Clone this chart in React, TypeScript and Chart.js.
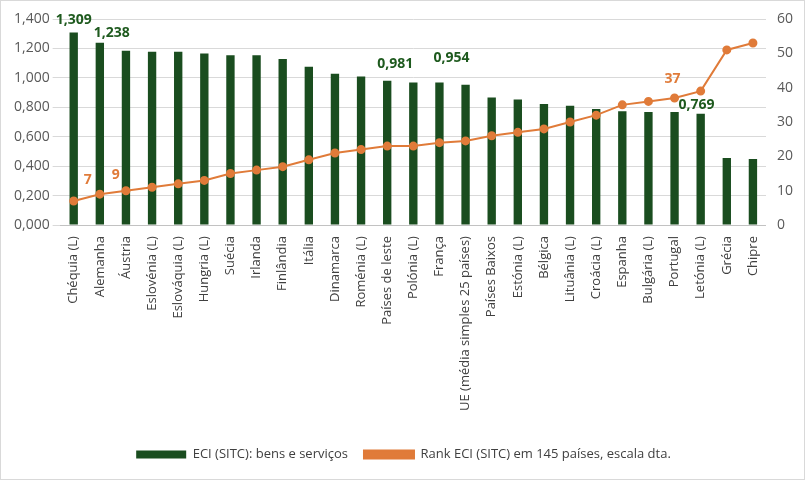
import React, { useEffect, useRef } from "react";
import { Chart, registerables } from "chart.js";
Chart.register(...registerables);

const categories = ["Chéquia (L)", "Alemanha", "Áustria", "Eslovénia (L)", "Eslováquia (L)", "Hungria (L)", "Suécia", "Irlanda", "Finlândia", "Itália", "Dinamarca", "Roménia (L)", "Países de leste", "Polónia (L)", "França", "UE (média simples 25 países)", "Países Baixos", "Estónia (L)", "Bélgica", "Lituânia (L)", "Croácia (L)", "Espanha", "Bulgária (L)", "Portugal", "Letónia (L)", "Grécia", "Chipre"];
const eciValues = [1.309, 1.238, 1.185, 1.178, 1.178, 1.165, 1.154, 1.154, 1.129, 1.075, 1.028, 1.01, 0.981, 0.968, 0.968, 0.954, 0.867, 0.853, 0.822, 0.81, 0.788, 0.774, 0.768, 0.769, 0.756, 0.456, 0.449];
const rankValues = [7, 9, 10, 11, 12, 13, 15, 16, 17, 19, 21, 22, 23, 23, 24, 24.5, 26, 27, 28, 30, 32, 35, 36, 37, 39, 51, 53];
const barLabelIdx = [0, 1, 12, 15, 23];
const lineLabelIdx = [0, 1, 23];

const fmt = (v: number) => v.toFixed(3).replace(".", ",");
const FONT = "'Open Sans', sans-serif";

const labelPlugin = {
  id: "labels",
  afterDatasetsDraw(chart: any) {
    const ctx = chart.ctx;
    ctx.save();
    ctx.textAlign = "center";
    ctx.textBaseline = "bottom";
    ctx.font = `bold 14px ${FONT}`;
    ctx.fillStyle = "#1e5a1e";
    const bm = chart.getDatasetMeta(0);
    const bOff: Record<number, [number, number]> = { 0: [0, -5], 1: [12, -3], 12: [8, -10], 15: [-14, -20], 23: [22, 0] };
    barLabelIdx.forEach((i) => {
      const el = bm.data[i];
      const [dx, dy] = bOff[i];
      ctx.fillText(fmt(eciValues[i]), el.x + dx, el.y + dy);
    });
    ctx.fillStyle = "#e07b39";
    const lm = chart.getDatasetMeta(1);
    const lOff: Record<number, [number, number]> = { 0: [14, -14], 1: [16, -12], 23: [-2, -12] };
    lineLabelIdx.forEach((i) => {
      const el = lm.data[i];
      const [dx, dy] = lOff[i];
      ctx.fillText(String(rankValues[i]), el.x + dx, el.y + dy);
    });
    ctx.restore();
  },
};

export default function App() {
  const ref = useRef<HTMLCanvasElement>(null);
  useEffect(() => {
    document.body.style.margin = "0";
    Chart.defaults.font.family = FONT;
    const chart = new Chart(ref.current!, {
      type: "bar",
      data: {
        labels: categories,
        datasets: [
          { type: "bar", label: "ECI (SITC): bens e serviços", data: eciValues, backgroundColor: "#1a4d1f", yAxisID: "y", barPercentage: 0.32, categoryPercentage: 1, order: 2 },
          { type: "line", label: "Rank ECI (SITC) em 145 países, escala dta.", data: rankValues, borderColor: "#e07b39", backgroundColor: "#e07b39", borderWidth: 2, pointRadius: 3.5, yAxisID: "y1", order: 1, tension: 0 },
        ],
      } as any,
      options: {
        animation: false,
        responsive: false,
        layout: { padding: { left: 10, right: 8, top: 18, bottom: 8 } },
        plugins: {
          legend: {
            position: "bottom",
            labels: {
              color: "#404040", font: { size: 13 }, boxWidth: 50, boxHeight: 8, padding: 16,
              sort: (a: any, b: any) => a.datasetIndex - b.datasetIndex,
            },
          },
          tooltip: { enabled: false },
        },
        scales: {
          x: {
            grid: { display: false },
            ticks: { color: "#404040", font: { size: 13 }, maxRotation: 90, minRotation: 90, autoSkip: false },
            afterFit: (s: any) => { s.height += 18; },
          },
          y: { min: 0, max: 1.4, ticks: { stepSize: 0.2, color: "#595959", font: { size: 14 }, callback: (v: any) => fmt(Number(v)) }, grid: { color: "#d9d9d9" }, border: { display: false } },
          y1: { position: "right", min: 0, max: 60, ticks: { stepSize: 10, color: "#595959", font: { size: 14 } }, grid: { display: false }, border: { display: false } },
        },
      },
      plugins: [labelPlugin],
    });
    return () => chart.destroy();
  }, []);
  return (
    <div style={{ width: 805, height: 480, boxSizing: "border-box", border: "1px solid #d9d9d9", background: "#fff" }}>
      <canvas ref={ref} width={803} height={478} />
    </div>
  );
}
